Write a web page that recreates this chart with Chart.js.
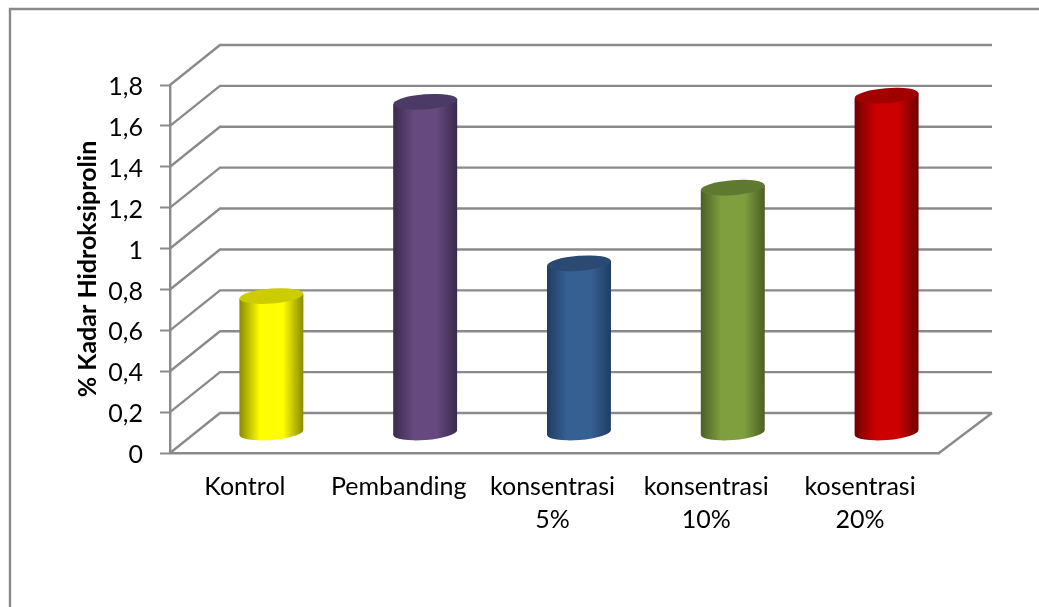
<!DOCTYPE html>
<html lang="en">
<head>
    <meta charset="UTF-8">
    <title>% Kadar Hidroksiprolin</title>
    <script src="https://cdn.jsdelivr.net/npm/chart.js"></script>
    <style>
        html, body { margin: 0; padding: 0; background: #fff; }
        .chart-container { width: 1039px; height: 607px; }
    </style>
</head>
<body>
    <div class="chart-container">
        <canvas id="myChart"></canvas>
    </div>
    <script>
        const categories = ['Kontrol', 'Pembanding', ['konsentrasi', '5%'], ['konsentrasi', '10%'], ['kosentrasi', '20%']];
        const kadarValues = [0.67, 1.62, 0.83, 1.2, 1.65];
        const yTickLabels = ['0', '0,2', '0,4', '0,6', '0,8', '1', '1,2', '1,4', '1,6', '1,8'];
        const barColors = ['#ffff00', '#65497f', '#376092', '#7f9f3f', '#cc0000'];
        const barEdges = ['#8a8a00', '#3a2a4e', '#1f3d63', '#4b5f24', '#6e0000'];
        const barCaps = ['#cccc00', '#4b3a66', '#2b4a73', '#5f7a30', '#a00000'];

        const gray = '#8a8a8a';
        const depthX = 50, depthY = 40; // offset of the back wall from the front plane

        // grey outline, back wall, side wall and floor of the 3D box
        const boxPlugin = {
            id: 'box',
            beforeDatasetsDraw(chart) {
                const { ctx, chartArea, scales } = chart;
                ctx.save();
                ctx.strokeStyle = gray;
                ctx.lineWidth = 2.4;
                ctx.beginPath();
                ctx.moveTo(10, 607);
                ctx.lineTo(10, 9);
                ctx.lineTo(1039, 9);
                yTickLabels.forEach((t, i) => {
                    const y = scales.y.getPixelForValue(i * 0.2);
                    ctx.moveTo(chartArea.left, y);
                    ctx.lineTo(chartArea.left + depthX, y - depthY);
                    ctx.lineTo(chartArea.right + depthX + 3, y - depthY);
                });
                ctx.moveTo(chartArea.right, chartArea.bottom);
                ctx.lineTo(chartArea.right + depthX + 3, chartArea.bottom - depthY);
                ctx.stroke();
                ctx.restore();
            },
            // bars are drawn as cylinders standing in the middle of the box
            beforeDatasetDraw(chart, args) {
                const { ctx } = chart;
                const tilt = -4.5 * Math.PI / 180;
                const ry = 7.5;
                args.meta.data.forEach((bar, i) => {
                    const cx = bar.x + depthX / 2 - 0.5;
                    const top = bar.y - depthY / 2;
                    const bottom = bar.base - depthY / 2;
                    const rx = bar.width / 2;
                    const dy = rx * Math.sin(tilt);

                    const grad = ctx.createLinearGradient(cx - rx, 0, cx + rx, 0);
                    grad.addColorStop(0, barEdges[i]);
                    grad.addColorStop(0.32, barColors[i]);
                    grad.addColorStop(0.68, barColors[i]);
                    grad.addColorStop(1, barEdges[i]);

                    ctx.save();
                    ctx.fillStyle = grad;
                    ctx.beginPath();
                    ctx.moveTo(cx - rx, top - dy);
                    ctx.lineTo(cx - rx, bottom - dy);
                    ctx.ellipse(cx, bottom, rx, ry, tilt, Math.PI, 0, true);
                    ctx.lineTo(cx + rx, top + dy);
                    ctx.closePath();
                    ctx.fill();

                    ctx.fillStyle = barCaps[i];
                    ctx.beginPath();
                    ctx.ellipse(cx, top, rx, ry, tilt, 0, Math.PI * 2);
                    ctx.fill();
                    ctx.restore();
                });
                return false;
            }
        };

        const data = {
            labels: categories,
            datasets: [{
                label: '% Kadar Hidroksiprolin',
                data: kadarValues,
                backgroundColor: barColors,
                categoryPercentage: 1,
                barThickness: 64
            }]
        };

        const config = {
            type: 'bar',
            data: data,
            plugins: [boxPlugin],
            options: {
                responsive: true,
                maintainAspectRatio: false,
                animation: false,
                layout: { padding: { top: 85, right: 100, left: 0, bottom: 0 } },
                plugins: {
                    legend: { display: false },
                    tooltip: { enabled: false }
                },
                scales: {
                    x: {
                        afterFit(scale) { scale.height = 154; },
                        border: { color: gray, width: 2.4 },
                        grid: { drawOnChartArea: false, drawTicks: false },
                        ticks: {
                            color: '#000',
                            padding: 17,
                            labelOffset: -2,
                            maxRotation: 0,
                            autoSkip: false,
                            font: { family: 'Lato', size: 25, lineHeight: 1.32 }
                        }
                    },
                    y: {
                        min: 0,
                        max: 1.8,
                        afterFit(scale) { scale.width = 170; },
                        border: { color: gray, width: 2.4 },
                        grid: { drawOnChartArea: false, tickLength: 10, tickColor: gray, tickWidth: 2 },
                        ticks: {
                            stepSize: 0.2,
                            color: '#000',
                            padding: 17,
                            labelOffset: 2,
                            font: { family: 'Lato', size: 25 },
                            callback: (value, index) => yTickLabels[index]
                        },
                        title: {
                            display: true,
                            text: '% Kadar Hidroksiprolin',
                            color: '#000',
                            padding: { top: 73, bottom: 0 },
                            font: { family: 'Lato', size: 25, weight: 'bold' }
                        }
                    }
                }
            }
        };

        const myChart = new Chart(document.getElementById('myChart'), config);
    </script>
</body>
</html>
